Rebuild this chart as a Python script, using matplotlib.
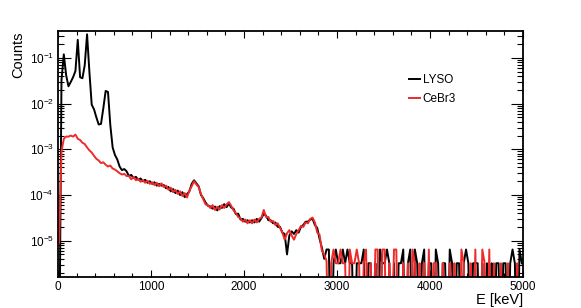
import numpy as np
import matplotlib
matplotlib.use("Agg")
import matplotlib.pyplot as plt
from matplotlib.ticker import MultipleLocator, LogLocator

plt.rcParams['font.family'] = ['Liberation Sans', 'DejaVu Sans']
plt.rcParams['mathtext.fontset'] = 'custom'
plt.rcParams['mathtext.rm'] = 'Liberation Sans'
plt.rcParams['mathtext.it'] = 'Liberation Sans:italic'

# spectra, 25 keV bins from 0 to 5000 keV (normalised counts)
bin_width = 25

lyso = [
    0, 3.3e-2, 1.2e-1, 4.2e-2, 2.4e-2, 3.0e-2, 3.8e-2, 5.2e-2, 2.5e-1, 3.8e-2,
    3.6e-2, 7.0e-2, 3.3e-1, 5.0e-2, 9.5e-3, 7.5e-3, 5.0e-3, 3.5e-3, 3.6e-3, 8.0e-3,
    1.9e-2, 1.8e-2, 3.4e-3, 1.1e-3, 7.5e-4, 6.0e-4, 4.2e-4, 3.5e-4, 3.7e-4, 3.3e-4,
    2.6e-4, 2.75e-4, 2.35e-4, 2.5e-4, 2.15e-4, 2.3e-4, 2.0e-4, 2.15e-4, 1.85e-4, 2.0e-4,
    1.75e-4, 1.9e-4, 1.6e-4, 1.75e-4, 1.6e-4, 1.65e-4, 1.4e-4, 1.5e-4, 1.2e-4, 1.35e-4,
    1.1e-4, 1.25e-4, 1.0e-4, 1.15e-4, 9.0e-5, 1.05e-4, 1.2e-4, 1.75e-4, 2.1e-4, 1.8e-4,
    1.55e-4, 1.0e-4, 8.5e-5, 6.8e-5, 5.8e-5, 5.6e-5, 5.0e-5, 5.6e-5, 4.6e-5, 5.7e-5,
    5.2e-5, 6.3e-5, 5.4e-5, 6.5e-5, 5.3e-5, 5.0e-5, 3.8e-5, 3.9e-5, 2.9e-5, 3.0e-5,
    2.6e-5, 2.8e-5, 2.5e-5, 2.8e-5, 2.5e-5, 3.0e-5, 2.6e-5, 3.1e-5, 3.9e-5, 3.5e-5,
    2.8e-5, 2.8e-5, 2.4e-5, 2.5e-5, 2.0e-5, 2.0e-5, 1.5e-5, 1.4e-5, 5.0e-6, 1.3e-5,
    1.6e-5, 1.4e-5, 1.7e-5, 1.5e-5, 2.0e-5, 2.2e-5, 2.6e-5, 2.6e-5, 2.9e-5, 3.0e-5,
    2.2e-5, 1.9e-5, 1.1e-5, 7.0e-6, 4.0e-6, 6.4e-6, 6.4e-6, 0, 3.2e-6, 6.4e-6,
    3.2e-6, 3.2e-6, 6.4e-6, 3.2e-6, 6.4e-6, 3.2e-6, 3.2e-6, 0, 3.2e-6, 3.2e-6,
    3.2e-6, 6.4e-6, 0, 3.2e-6, 3.2e-6, 0, 3.2e-6, 0, 6.4e-6, 3.2e-6,
    3.2e-6, 6.4e-6, 3.2e-6, 0, 3.2e-6, 0, 3.2e-6, 3.2e-6, 6.4e-6, 0,
    3.2e-6, 6.4e-6, 0, 6.4e-6, 3.2e-6, 0, 3.2e-6, 6.4e-6, 0, 3.2e-6,
    3.2e-6, 0, 6.4e-6, 3.2e-6, 0, 3.2e-6, 3.2e-6, 0, 6.4e-6, 3.2e-6,
    0, 3.2e-6, 3.2e-6, 0, 3.2e-6, 6.4e-6, 3.2e-6, 0, 3.2e-6, 3.2e-6,
    3.2e-6, 0, 3.2e-6, 0, 3.2e-6, 0, 3.2e-6, 0, 3.2e-6, 3.2e-6,
    0, 3.2e-6, 3.2e-6, 0, 3.2e-6, 6.4e-6, 3.2e-6, 0, 6.4e-6, 3.2e-6,
]

cebr3 = [
    9.0e-6, 9.0e-4, 1.7e-3, 1.9e-3, 1.9e-3, 2.0e-3, 1.9e-3, 2.1e-3, 1.7e-3, 1.6e-3,
    1.4e-3, 1.3e-3, 1.1e-3, 9.5e-4, 8.5e-4, 7.2e-4, 6.2e-4, 5.7e-4, 5.0e-4, 5.2e-4,
    4.6e-4, 4.2e-4, 4.4e-4, 3.8e-4, 3.6e-4, 3.3e-4, 3.0e-4, 2.8e-4, 2.9e-4, 2.6e-4,
    2.6e-4, 2.2e-4, 2.5e-4, 2.1e-4, 2.25e-4, 1.95e-4, 2.1e-4, 1.85e-4, 2.05e-4, 1.75e-4,
    1.9e-4, 1.65e-4, 1.85e-4, 1.55e-4, 1.8e-4, 1.5e-4, 1.6e-4, 1.3e-4, 1.45e-4, 1.15e-4,
    1.3e-4, 1.05e-4, 1.2e-4, 9.5e-5, 1.1e-4, 8.8e-5, 1.25e-4, 1.55e-4, 2.0e-4, 1.7e-4,
    1.5e-4, 1.05e-4, 8.0e-5, 6.2e-5, 6.0e-5, 5.2e-5, 6.0e-5, 4.7e-5, 5.5e-5, 4.8e-5,
    6.0e-5, 5.2e-5, 6.2e-5, 7.0e-5, 5.8e-5, 4.6e-5, 4.0e-5, 3.3e-5, 3.1e-5, 2.6e-5,
    2.9e-5, 2.4e-5, 2.8e-5, 2.4e-5, 2.9e-5, 2.5e-5, 3.0e-5, 3.2e-5, 4.7e-5, 3.3e-5,
    3.3e-5, 2.6e-5, 2.7e-5, 2.2e-5, 2.4e-5, 1.9e-5, 1.5e-5, 1.05e-5, 1.45e-5, 1.7e-5,
    1.3e-5, 1.05e-5, 1.4e-5, 1.7e-5, 2.1e-5, 2.0e-5, 2.5e-5, 2.4e-5, 3.0e-5, 3.2e-5,
    2.5e-5, 1.5e-5, 1.35e-5, 6.0e-6, 5.0e-6, 3.6e-6, 0, 3.2e-6, 6.4e-6, 3.2e-6,
    3.2e-6, 6.4e-6, 3.2e-6, 3.2e-6, 0, 6.4e-6, 3.2e-6, 3.2e-6, 6.4e-6, 3.2e-6,
    0, 3.2e-6, 6.4e-6, 0, 3.2e-6, 0, 6.4e-6, 6.4e-6, 0, 6.4e-6,
    6.4e-6, 0, 3.2e-6, 0, 6.4e-6, 6.4e-6, 0, 0, 3.2e-6, 0,
    3.2e-6, 0, 6.4e-6, 3.2e-6, 0, 3.2e-6, 0, 3.2e-6, 0, 6.4e-6,
    0, 3.2e-6, 3.2e-6, 0, 0, 3.2e-6, 0, 0, 3.2e-6, 0,
    3.2e-6, 0, 0, 6.4e-6, 3.2e-6, 0, 0, 3.2e-6, 0, 6.4e-6,
    0, 0, 6.4e-6, 3.2e-6, 0, 6.4e-6, 0, 3.2e-6, 0, 0,
    3.2e-6, 0, 0, 3.2e-6, 0, 0, 0, 3.2e-6, 0, 0,
]

energy = np.arange(len(lyso)) * bin_width + bin_width / 2

fig = plt.figure(figsize=(5.81, 3.08), dpi=100)
ax = fig.add_axes([58/581, 31/308, 465/581, 246/308])

# empty bins are drawn at the bottom of the frame, like ROOT does
floor = 1e-8
ax.plot(energy, np.clip(lyso, floor, None), color='black', lw=1.4, label='LYSO')
ax.plot(energy, np.clip(cebr3, floor, None), color='#ee2a2a', lw=1.4, label='CeBr3')

ax.set_yscale('log')
ax.set_xlim(0, 5000)
ax.set_ylim(1.6e-6, 0.39)

ax.xaxis.set_major_locator(MultipleLocator(1000))
ax.xaxis.set_minor_locator(MultipleLocator(200))
ax.yaxis.set_major_locator(LogLocator(base=10, numticks=20))
ax.yaxis.set_minor_locator(LogLocator(base=10, subs=np.arange(2, 10), numticks=20))

ax.tick_params(which='both', direction='in', top=True, right=True, labelsize=8.5, width=0.8)
ax.tick_params(axis='x', which='major', length=5, pad=3)
ax.tick_params(axis='x', which='minor', length=2.7)
ax.tick_params(axis='y', which='major', length=9, pad=3)
ax.tick_params(axis='y', which='minor', length=4.5)
for sp in ax.spines.values():
    sp.set_linewidth(1.3)

ax.set_xlabel('E [keV]', fontsize=10.5, loc='right')
ax.xaxis.set_label_coords(1.0, -0.064)
ax.set_ylabel('Counts', fontsize=10.5, loc='top')
ax.yaxis.set_label_coords(-0.071, 1.0)

ax.legend(loc='upper left', bbox_to_anchor=(0.754, 0.826), frameon=False, fontsize=8.5,
          handlelength=1.0, handletextpad=0.2, labelspacing=0.6, borderpad=0, borderaxespad=0)

fig.savefig('out.png', dpi=100)
